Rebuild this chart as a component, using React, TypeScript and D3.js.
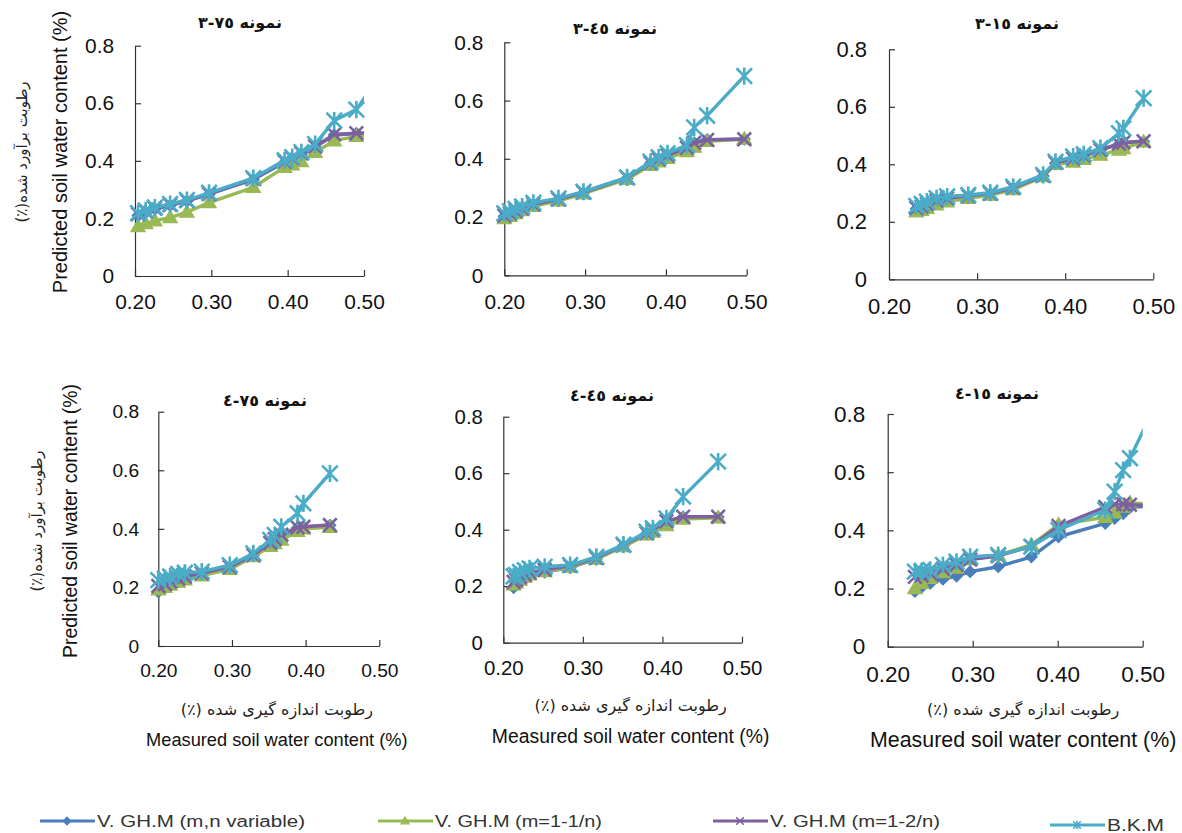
import * as d3 from 'd3';
import { useEffect, useRef } from 'react';

const legendLabels = ['V. GH.M  (m,n variable)', 'V. GH.M (m=1-1/n)', 'V. GH.M (m=1-2/n)', 'B.K.M'];
const seriesColors = ['#4a7ebb', '#98b954', '#7d60a0', '#4aacc6'];
const markerKinds = ['diamond', 'triangle', 'x', 'star'];

const xTickValues = [0.2, 0.3, 0.4, 0.5];
const yTickValues = [0, 0.2, 0.4, 0.6, 0.8];

const panelTitles = ['نمونه ٧٥-٣', 'نمونه ٤٥-٣', 'نمونه ١٥-٣', 'نمونه ٧٥-٤', 'نمونه ٤٥-٤', 'نمونه ١٥-٤'];
const yLabelEn = 'Predicted soil water content (%)';
const yLabelFa = 'رطوبت برآورد شده(٪)';
const xLabelEn = 'Measured soil water content (%)';
const xLabelFa = 'رطوبت اندازه گیری شده (٪)';

// sample 3-75
const measured3_75 = [0.204, 0.214, 0.226, 0.246, 0.268, 0.297, 0.355, 0.396, 0.406, 0.418, 0.436, 0.461, 0.49, 0.515];
const vgVar3_75 = [0.21, 0.22, 0.232, 0.245, 0.26, 0.284, 0.335, 0.395, 0.408, 0.424, 0.448, 0.49, 0.495, 0.497];
const vg1_3_75 = [0.172, 0.182, 0.192, 0.203, 0.222, 0.255, 0.308, 0.378, 0.386, 0.398, 0.43, 0.47, 0.485, 0.488];
const vg2_3_75 = [0.215, 0.225, 0.235, 0.247, 0.262, 0.285, 0.338, 0.398, 0.41, 0.426, 0.45, 0.492, 0.496, 0.497];
const bkm3_75 = [0.218, 0.228, 0.238, 0.25, 0.264, 0.289, 0.34, 0.402, 0.413, 0.43, 0.458, 0.54, 0.578, 0.675];

// sample 3-45
const measured3_45 = [0.2, 0.207, 0.214, 0.222, 0.236, 0.267, 0.298, 0.352, 0.381, 0.391, 0.402, 0.426, 0.435, 0.451, 0.497];
const vgVar3_45 = [0.203, 0.211, 0.219, 0.228, 0.242, 0.259, 0.283, 0.333, 0.385, 0.398, 0.411, 0.437, 0.455, 0.466, 0.468];
const vg1_3_45 = [0.195, 0.203, 0.212, 0.222, 0.237, 0.256, 0.28, 0.33, 0.378, 0.39, 0.402, 0.425, 0.44, 0.46, 0.468];
const vg2_3_45 = [0.205, 0.213, 0.221, 0.23, 0.244, 0.261, 0.285, 0.335, 0.386, 0.399, 0.412, 0.438, 0.455, 0.465, 0.467];
const bkm3_45 = [0.213, 0.22, 0.228, 0.236, 0.249, 0.264, 0.287, 0.336, 0.39, 0.405, 0.419, 0.447, 0.508, 0.548, 0.684];

// sample 3-15
const measured3_15 = [0.231, 0.237, 0.243, 0.254, 0.266, 0.29, 0.315, 0.341, 0.375, 0.389, 0.409, 0.421, 0.44, 0.461, 0.466, 0.489];
const vgVar3_15 = [0.245, 0.251, 0.259, 0.271, 0.28, 0.288, 0.297, 0.317, 0.359, 0.404, 0.419, 0.429, 0.449, 0.47, 0.475, 0.479];
const vg1_3_15 = [0.235, 0.24, 0.247, 0.259, 0.27, 0.282, 0.293, 0.312, 0.357, 0.4, 0.408, 0.417, 0.432, 0.45, 0.455, 0.478];
const vg2_3_15 = [0.248, 0.254, 0.262, 0.274, 0.282, 0.29, 0.298, 0.318, 0.36, 0.405, 0.42, 0.43, 0.45, 0.472, 0.476, 0.48];
const bkm3_15 = [0.255, 0.262, 0.27, 0.282, 0.288, 0.293, 0.301, 0.322, 0.363, 0.409, 0.427, 0.435, 0.456, 0.508, 0.525, 0.63];

// sample 4-75
const measured4_75 = [0.2, 0.209, 0.216, 0.227, 0.236, 0.259, 0.297, 0.329, 0.352, 0.358, 0.367, 0.389, 0.397, 0.433];
const vgVar4_75 = [0.185, 0.197, 0.207, 0.219, 0.228, 0.244, 0.268, 0.309, 0.35, 0.363, 0.378, 0.404, 0.406, 0.412];
const vg1_4_75 = [0.192, 0.2, 0.208, 0.218, 0.226, 0.24, 0.262, 0.305, 0.34, 0.35, 0.362, 0.392, 0.4, 0.405];
const vg2_4_75 = [0.205, 0.212, 0.22, 0.23, 0.237, 0.248, 0.27, 0.31, 0.352, 0.365, 0.38, 0.405, 0.407, 0.413];
const bkm4_75 = [0.225, 0.231, 0.237, 0.246, 0.25, 0.254, 0.276, 0.316, 0.362, 0.379, 0.407, 0.453, 0.487, 0.589];

// sample 4-45
const measured4_45 = [0.213, 0.216, 0.221, 0.227, 0.233, 0.252, 0.284, 0.317, 0.351, 0.38, 0.388, 0.405, 0.426, 0.47];
const vgVar4_45 = [0.195, 0.205, 0.218, 0.228, 0.237, 0.25, 0.266, 0.297, 0.343, 0.386, 0.398, 0.428, 0.445, 0.445];
const vg1_4_45 = [0.205, 0.212, 0.222, 0.232, 0.24, 0.252, 0.268, 0.296, 0.34, 0.382, 0.392, 0.415, 0.438, 0.442];
const vg2_4_45 = [0.215, 0.222, 0.232, 0.24, 0.248, 0.258, 0.272, 0.3, 0.345, 0.388, 0.4, 0.43, 0.446, 0.446];
const bkm4_45 = [0.235, 0.24, 0.25, 0.257, 0.263, 0.269, 0.275, 0.304, 0.347, 0.393, 0.405, 0.44, 0.517, 0.641];

// sample 4-15
const measured4_15 = [0.232, 0.24, 0.25, 0.265, 0.281, 0.297, 0.33, 0.369, 0.401, 0.456, 0.467, 0.477, 0.485, 0.51];
const vgVar4_15 = [0.19, 0.205, 0.218, 0.232, 0.243, 0.258, 0.275, 0.309, 0.378, 0.424, 0.441, 0.458, 0.478, 0.484];
const vg1_4_15 = [0.2, 0.218, 0.235, 0.255, 0.27, 0.3, 0.315, 0.35, 0.42, 0.445, 0.46, 0.48, 0.495, 0.49];
const vg2_4_15 = [0.24, 0.245, 0.252, 0.268, 0.282, 0.3, 0.312, 0.345, 0.415, 0.48, 0.49, 0.49, 0.488, 0.485];
const bkm4_15 = [0.258, 0.26, 0.264, 0.281, 0.292, 0.309, 0.315, 0.344, 0.401, 0.47, 0.533, 0.607, 0.648, 0.8];

const panels = [
  { measured: measured3_75, series: [vgVar3_75, vg1_3_75, vg2_3_75, bkm3_75] },
  { measured: measured3_45, series: [vgVar3_45, vg1_3_45, vg2_3_45, bkm3_45] },
  { measured: measured3_15, series: [vgVar3_15, vg1_3_15, vg2_3_15, bkm3_15] },
  { measured: measured4_75, series: [vgVar4_75, vg1_4_75, vg2_4_75, bkm4_75] },
  { measured: measured4_45, series: [vgVar4_45, vg1_4_45, vg2_4_45, bkm4_45] },
  { measured: measured4_15, series: [vgVar4_15, vg1_4_15, vg2_4_15, bkm4_15] },
];

// where each little chart sits on the page
const boxes = [
  { left: 135, right: 364, top: 45.7, bottom: 276, fs: 20.9, tx: 240, ty: 22 },
  { left: 504.3, right: 746.7, top: 42.3, bottom: 275.3, fs: 20.9, tx: 615, ty: 28 },
  { left: 889, right: 1153.3, top: 49.3, bottom: 279.3, fs: 22, tx: 1017, ty: 23 },
  { left: 158.3, right: 379.3, top: 411.7, bottom: 646, fs: 19.2, tx: 265, ty: 400 },
  { left: 503.3, right: 742, top: 416.7, bottom: 642.7, fs: 20.4, tx: 612, ty: 395 },
  { left: 887.7, right: 1142.7, top: 414, bottom: 646.7, fs: 22.5, tx: 997, ty: 393 },
];

const FONT = '"Liberation Sans", Arial, sans-serif';
const FA_FONT = '"DejaVu Sans", sans-serif';

function markerPath(kind: string, s: number) {
  if (kind === 'diamond') return `M0,${-s}L${s},0L0,${s}L${-s},0Z`;
  if (kind === 'triangle') return `M0,${-s * 1.05}L${s * 1.05},${s * 0.75}L${-s * 1.05},${s * 0.75}Z`;
  if (kind === 'x') return `M${-s},${-s}L${s},${s}M${-s},${s}L${s},${-s}`;
  return `M${-s},${-s}L${s},${s}M${-s},${s}L${s},${-s}M0,${-s * 1.1}L0,${s * 1.1}`;
}

function drawMarkers(sel: any, kind: string, color: string, s: number, sw = 2.6) {
  const filled = kind === 'diamond' || kind === 'triangle';
  sel
    .attr('d', markerPath(kind, s))
    .attr('fill', filled ? color : 'none')
    .attr('stroke', color)
    .attr('stroke-width', filled ? 1.2 : sw);
}

const markerSize = [5.8, 6.8, 6.8, 7.8];

function App() {
  const svgRef = useRef<SVGSVGElement>(null);

  useEffect(() => {
    const svg = d3.select(svgRef.current);
    svg.selectAll('*').remove();
    const defs = svg.append('defs');

    panels.forEach((p, i) => {
      const b = boxes[i];
      const x = d3.scaleLinear().domain([0.2, 0.5]).range([b.left, b.right]);
      const y = d3.scaleLinear().domain([0, 0.8]).range([b.bottom, b.top]);
      const g = svg.append('g');

      defs
        .append('clipPath')
        .attr('id', `clip${i}`)
        .append('rect')
        .attr('x', b.left - 30)
        .attr('y', b.top - 30)
        .attr('width', b.right - b.left + 30)
        .attr('height', b.bottom - b.top + 60);

      const yAxis = d3
        .axisLeft(y)
        .tickValues(yTickValues)
        .tickFormat(d => (d === 0 ? '0' : d3.format('.1f')(d as number)))
        .tickSizeInner(-6)
        .tickSizeOuter(0)
        .tickPadding(b.fs);
      const xAxis = d3
        .axisBottom(x)
        .tickValues(xTickValues)
        .tickFormat(d3.format('.2f'))
        .tickSizeInner(-6)
        .tickSizeOuter(0)
        .tickPadding(b.fs * 0.88);

      [
        g.append('g').attr('transform', `translate(${b.left},0)`).call(yAxis),
        g.append('g').attr('transform', `translate(0,${b.bottom})`).call(xAxis),
      ].forEach(a => {
        a.attr('font-size', b.fs).attr('font-family', FONT);
        a.selectAll('path,line').attr('stroke', '#333').attr('stroke-width', 1.2);
        a.selectAll('text').attr('fill', '#111');
      });

      const plot = g.append('g');
      p.series.forEach((vals, k) => {
        const line = d3
          .line<number>()
          .x((d, j) => x(p.measured[j]))
          .y(d => y(d));
        plot
          .append('path')
          .attr('clip-path', `url(#clip${i})`)
          .attr('d', line(vals))
          .attr('fill', 'none')
          .attr('stroke', seriesColors[k])
          .attr('stroke-width', 3.4)
          .attr('stroke-linejoin', 'round');
        const pts = vals.map((v, j) => [p.measured[j], v]).filter(d => d[0] <= 0.5);
        plot
          .append('g')
          .selectAll('path')
          .data(pts)
          .join('path')
          .attr('transform', d => `translate(${x(d[0])},${y(d[1])})`)
          .call(drawMarkers, markerKinds[k], seriesColors[k], markerSize[k]);
      });

      svg
        .append('text')
        .attr('x', b.tx)
        .attr('y', b.ty)
        .attr('direction', 'rtl')
        .attr('text-anchor', 'middle')
        .attr('dominant-baseline', 'central')
        .attr('font-family', FA_FONT)
        .attr('font-weight', 'bold')
        .attr('font-size', 16)
        .attr('fill', '#111')
        .text(panelTitles[i]);

      if (i >= 3) {
        const cx = (b.left + b.right) / 2 + 8;
        svg
          .append('text')
          .attr('x', cx)
          .attr('y', b.bottom + 63)
          .attr('direction', 'rtl')
          .attr('text-anchor', 'middle')
          .attr('dominant-baseline', 'central')
          .attr('font-family', FA_FONT)
          .attr('font-size', 16)
          .attr('fill', '#222')
          .text(xLabelFa);
        svg
          .append('text')
          .attr('x', cx)
          .attr('y', b.bottom + 100)
          .attr('text-anchor', 'middle')
          .attr('font-family', FONT)
          .attr('font-size', b.fs * 0.95)
          .attr('fill', '#111')
          .text(xLabelEn);
      }
    });

    // y titles, once per row
    [
      { en: 60, fa: 22, cy: 152, fs: 20 },
      { en: 70, fa: 37, cy: 521, fs: 19.4 },
    ].forEach(r => {
      svg
        .append('text')
        .attr('transform', `translate(${r.en},${r.cy}) rotate(-90)`)
        .attr('text-anchor', 'middle')
        .attr('dominant-baseline', 'central')
        .attr('font-family', FONT)
        .attr('font-size', r.fs)
        .attr('fill', '#111')
        .text(yLabelEn);
      svg
        .append('text')
        .attr('transform', `translate(${r.fa},${r.cy}) rotate(-90)`)
        .attr('direction', 'rtl')
        .attr('text-anchor', 'middle')
        .attr('dominant-baseline', 'central')
        .attr('font-family', FA_FONT)
        .attr('font-size', 15)
        .attr('fill', '#222')
        .text(yLabelFa);
    });

    // legend
    const legendX = [40, 378, 713, 1050];
    const legendY = [821, 821, 821, 825];
    const legendW = [208, 167, 170, 57];
    const leg = svg.append('g');
    legendLabels.forEach((name, k) => {
      const x0 = legendX[k];
      const yy = legendY[k];
      leg
        .append('line')
        .attr('x1', x0)
        .attr('x2', x0 + 55)
        .attr('y1', yy)
        .attr('y2', yy)
        .attr('stroke', seriesColors[k])
        .attr('stroke-width', 3);
      leg
        .append('path')
        .attr('transform', `translate(${x0 + 27},${yy})`)
        .call(drawMarkers, markerKinds[k], seriesColors[k], 3.8, 1.6);
      leg
        .append('text')
        .attr('x', x0 + 57)
        .attr('y', yy)
        .attr('dominant-baseline', 'central')
        .attr('font-family', FONT)
        .attr('font-size', 16)
        .attr('fill', '#333')
        .attr('textLength', legendW[k])
        .attr('lengthAdjust', 'spacingAndGlyphs')
        .text(name);
    });
  }, []);

  return (
    <svg
      ref={svgRef}
      width={1182}
      height={833}
      style={{ position: 'absolute', left: 0, top: 0, background: '#fff' }}
    />
  );
}

export default App;
